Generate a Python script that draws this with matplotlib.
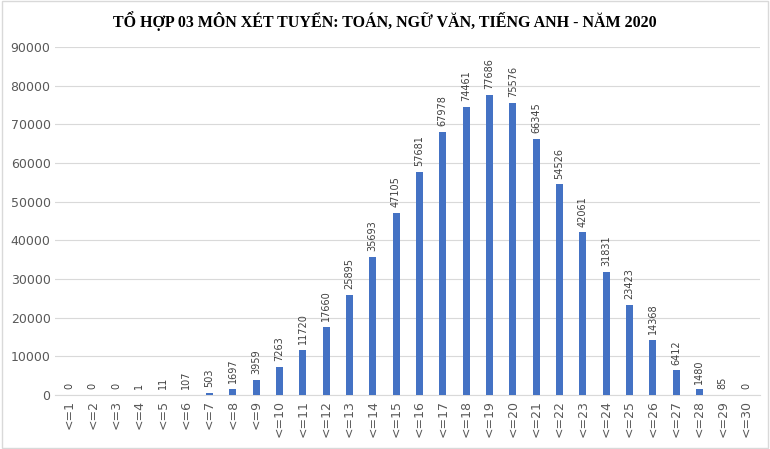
import matplotlib.pyplot as plt
import numpy as np

categories = ['<=%d' % i for i in range(1, 31)]
counts = [0, 0, 0, 1, 11, 107, 503, 1697, 3959, 7263, 11720, 17660, 25895, 35693, 47105,
          57681, 67978, 74461, 77686, 75576, 66345, 54526, 42061, 31831, 23423, 14368,
          6412, 1480, 85, 0]

fig = plt.figure(figsize=(7.7, 4.49), dpi=100)
ax = fig.add_axes([0.072, 0.12, 0.915, 0.775])

x = np.arange(len(categories))
bars = ax.bar(x, counts, width=0.3, color='#4472C4', zorder=3)
for xi, v in zip(x, counts):
    ax.text(xi, v + 1500, str(v), rotation=90, ha='center', va='bottom',
            fontsize=7, color='#404040')

ax.set_ylim(0, 90000)
ax.set_yticks(np.arange(0, 90001, 10000))
ax.set_xlim(-0.6, len(categories) - 0.4)
ax.set_xticks(x)
ax.set_xticklabels(categories, rotation=90, fontsize=9, color='#595959')
ax.tick_params(axis='y', labelsize=9, labelcolor='#595959', length=0)
ax.tick_params(axis='x', length=0)
ax.grid(axis='y', color='#D9D9D9', linewidth=0.8, zorder=0)
for s in ['top', 'right', 'left']:
    ax.spines[s].set_visible(False)
ax.spines['bottom'].set_color('#D9D9D9')

fig.suptitle('TỔ HỢP 03 MÔN XÉT TUYỂN: TOÁN, NGỮ VĂN, TIẾNG ANH - NĂM 2020',
             y=0.975, fontsize=11.5, fontweight='bold', family='Liberation Serif')
fig.patches.append(plt.Rectangle((0.002, 0.002), 0.996, 0.996, transform=fig.transFigure,
                                 fill=False, edgecolor='#D9D9D9', linewidth=1))

fig.savefig('out.png', dpi=100)
